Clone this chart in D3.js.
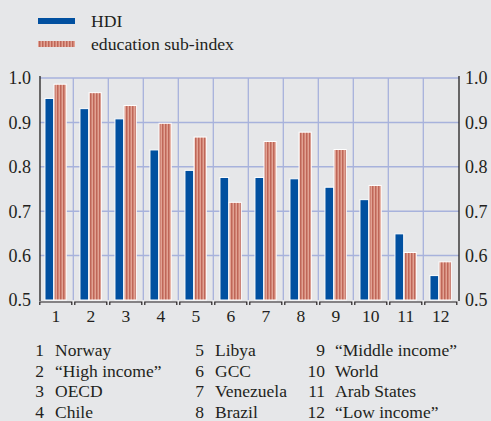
<!DOCTYPE html>
<html><head><meta charset="utf-8">
<script src="https://cdn.jsdelivr.net/npm/d3@7"></script>
<style>body{margin:0;background:#e6e7e9;}svg{display:block;} text{font-family:'Liberation Serif','Times New Roman',Times,serif;}</style>
</head><body>
<svg id="c" width="491" height="421"></svg>
<script>
const categories = ["1","2","3","4","5","6","7","8","9","10","11","12"];
const names = ["Norway","\u201cHigh income\u201d","OECD","Chile","Libya","GCC","Venezuela","Brazil","\u201cMiddle income\u201d","World","Arab States","\u201cLow income\u201d"];
const hdi = [0.954,0.931,0.908,0.838,0.792,0.776,0.776,0.773,0.754,0.726,0.649,0.555];
const edu = [0.986,0.967,0.938,0.898,0.867,0.720,0.857,0.878,0.839,0.758,0.607,0.586];
const yTicks = [0.5,0.6,0.7,0.8,0.9,1.0];
const seriesNames = ["HDI","education sub-index"];

const svg = d3.select("#c");
const W=491,H=421;
svg.append("rect").attr("width",W).attr("height",H).attr("fill","#e6e7e9");
const defs = svg.append("defs");
const pat = defs.append("pattern").attr("id","stripes").attr("patternUnits","userSpaceOnUse")
  .attr("width",3).attr("height",10);
pat.append("rect").attr("width",3).attr("height",10).attr("fill","#e2a293");
pat.append("rect").attr("width",1.5).attr("height",10).attr("fill","#bf6658");

const txt = "#231f20";
const x = d3.scaleBand().domain(categories).range([38.3,458.3]);
const y = d3.scaleLinear().domain([0.5,1.0]).range([300,78]);
const grid = "#a7b2dc";

// vertical grid
svg.append("g").selectAll("line").data(categories.slice(1)).join("line")
  .attr("x1",d=>x(d)).attr("x2",d=>x(d)).attr("y1",y(1.0)).attr("y2",y(0.5))
  .attr("stroke",grid).attr("stroke-width",1.3);
// horizontal grid
svg.append("g").selectAll("line").data(yTicks.filter(t=>t>0.5)).join("line")
  .attr("x1",40).attr("x2",459).attr("y1",d=>y(d)).attr("y2",d=>y(d))
  .attr("stroke",grid).attr("stroke-width",1.5);

// bars
const bw = x.bandwidth();
svg.append("g").selectAll("rect").data(categories).join("rect")
  .attr("x",d=>x(d)+bw*0.19).attr("width",bw*0.25)
  .attr("y",(d,i)=>y(hdi[i])).attr("height",(d,i)=>y(0.5)-y(hdi[i]))
  .attr("fill","#0150a0").attr("stroke","#ffffff").attr("stroke-width",1);
svg.append("g").selectAll("rect").data(categories).join("rect")
  .attr("x",d=>x(d)+bw*0.45).attr("width",bw*0.35)
  .attr("y",(d,i)=>y(edu[i])).attr("height",(d,i)=>y(0.5)-y(edu[i]))
  .attr("fill","url(#stripes)").attr("stroke","#ffffff").attr("stroke-width",1);

// axes lines
svg.append("line").attr("x1",40).attr("x2",40).attr("y1",y(1.0)-2).attr("y2",y(0.5)+1)
  .attr("stroke",txt).attr("stroke-width",1.3);
svg.append("line").attr("x1",459).attr("x2",459).attr("y1",y(1.0)-2).attr("y2",y(0.5)+1)
  .attr("stroke",txt).attr("stroke-width",1.3);
// bottom bracket segments
const bg = svg.append("g");
categories.forEach(d=>{
  const x0=x(d)+1.5, x1=x(d)+bw-1.5, yy=y(0.5)+2;
  bg.append("path").attr("d",`M${x0},${yy+3}V${yy}H${x1}V${yy+3}`)
    .attr("fill","none").attr("stroke",txt).attr("stroke-width",1.2);
});

// y labels
const yfmt = d3.format(".1f");
svg.append("g").selectAll("text").data(yTicks).join("text")
  .attr("x",31).attr("y",d=>y(d)).attr("dy","0.35em").attr("text-anchor","end")
  .attr("font-size",18).attr("fill",txt).text(yfmt);
svg.append("g").selectAll("text").data(yTicks).join("text")
  .attr("x",465).attr("y",d=>y(d)).attr("dy","0.35em").attr("text-anchor","start")
  .attr("font-size",18).attr("fill",txt).text(yfmt);
// x labels
svg.append("g").selectAll("text").data(categories).join("text")
  .attr("x",d=>x(d)+bw/2).attr("y",322).attr("text-anchor","middle")
  .attr("font-size",17.5).attr("fill",txt).text(d=>d);

// top legend
svg.append("rect").attr("x",38).attr("y",18).attr("width",37).attr("height",6).attr("fill","#0150a0");
svg.append("rect").attr("x",38).attr("y",41).attr("width",37).attr("height",6).attr("fill","url(#stripes)");
seriesNames.forEach((s,i)=>{
  svg.append("text").attr("x",91).attr("y",21+i*23).attr("dy","0.35em")
    .attr("font-size",17.7).attr("fill",txt).text(s);
});

// bottom key
const colNumX=[44,204,325], colNameX=[55,215,335];
categories.forEach((c,i)=>{
  const col=Math.floor(i/4), row=i%4;
  const yy = 356 + row*20.5;
  svg.append("text").attr("x",colNumX[col]).attr("y",yy).attr("text-anchor","end")
    .attr("font-size",17.5).attr("fill",txt).text(c);
  svg.append("text").attr("x",colNameX[col]).attr("y",yy)
    .attr("font-size",17.5).attr("fill",txt).text(names[i]);
});
</script>
</body></html>
